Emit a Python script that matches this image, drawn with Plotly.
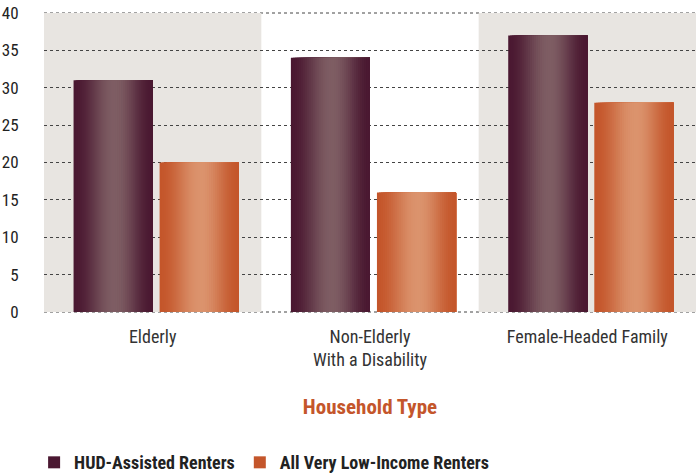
import plotly.graph_objects as go
import numpy as np

categories = ["Elderly", "Non-Elderly<br>With a Disability", "Female-Headed Family"]
hud_values = [31, 34, 37]
vli_values = [20, 16, 28]
series_names = ["HUD-Assisted Renters", "All Very Low-Income Renters"]
y_ticks = [0, 5, 10, 15, 20, 25, 30, 35, 40]

FONT = "Liberation Sans Narrow, Arial Narrow, Roboto Condensed, Roboto, sans-serif"

def hex2rgb(h):
    h = h.lstrip("#")
    return np.array([int(h[i:i+2], 16) for i in (0, 2, 4)], dtype=float)

def mix(c1, c2, t):
    c = hex2rgb(c1) * (1 - t) + hex2rgb(c2) * t
    return "rgb(%d,%d,%d)" % tuple(np.round(c).astype(int))

styles = [
    dict(values=hud_values, edge="#4a1831", light="#7e5d63", offset=-0.364),
    dict(values=vli_values, edge="#c4562b", light="#db936d", offset=0.032),
]
BAR_W = 0.364
N = 40
PEAK = 0.52

fig = go.Figure()
xs = list(range(len(categories)))
for si, st in enumerate(styles):
    for i in range(N):
        u = (i + 0.5) / N
        d = (PEAK - u) / PEAK if u < PEAK else (u - PEAK) / (1 - PEAK)
        t = 0.5 * (1 + np.cos(np.pi * min(d, 1)))
        col = mix(st["edge"], st["light"], t)
        fig.add_trace(go.Bar(
            x=xs, y=st["values"],
            offset=st["offset"] + i * BAR_W / N,
            width=BAR_W - i * BAR_W / N,
            marker=dict(color=col, line=dict(width=0)),
            name=series_names[si],
            legendgroup=series_names[si],
            showlegend=False,
            hoverinfo="skip",
        ))
    fig.add_trace(go.Bar(
        x=[None], y=[None], name=series_names[si],
        legendgroup=series_names[si],
        marker=dict(color=st["edge"], line=dict(width=0)),
        showlegend=True,
    ))

for k in (0, 2):
    fig.add_shape(type="rect", xref="x", yref="y", x0=k - 0.5, x1=k + 0.5,
                  y0=0, y1=40, fillcolor="#e8e5e1", line=dict(width=0), layer="below")
# dotted lines along the plot's top and bottom edges (plotly drops edge gridlines)
for yp in (0, 1):
    fig.add_shape(type="line", xref="paper", yref="paper", x0=0, x1=1, y0=yp, y1=yp,
                  line=dict(color="#444", width=1, dash="dot"), layer="between")

fig.update_layout(
    width=696, height=474,
    margin=dict(l=44, r=0, t=13, b=162),
    paper_bgcolor="white", plot_bgcolor="white",
    barmode="overlay",
    font=dict(family=FONT, color="#222"),
    showlegend=True,
    legend=dict(orientation="h", xref="container", yref="container",
                x=0.049, y=0.024, xanchor="left", yanchor="middle",
                font=dict(family=FONT, size=18, color="#222", weight="bold"),
                traceorder="normal", itemclick=False),
    xaxis=dict(
        tickmode="array", tickvals=xs, ticktext=categories,
        range=[-0.5, 2.5], showgrid=False, zeroline=False,
        ticks="outside", ticklen=8, tickcolor="rgba(0,0,0,0)",
        tickfont=dict(family=FONT, size=18, color="#333"),
        title=dict(text="Household Type", standoff=30,
                   font=dict(family=FONT, size=21, color="#c4562b", weight="bold")),
        automargin=False,
    ),
    yaxis=dict(
        range=[0, 40], tickvals=y_ticks, showgrid=True,
        gridcolor="#444", griddash="dot", gridwidth=1, zeroline=False,
        ticks="outside", ticklen=21, tickcolor="rgba(0,0,0,0)",
        tickfont=dict(family=FONT, size=17, color="#222"),
        automargin=False,
    ),
)

fig.write_html("out.html", config={"displayModeBar": False},
               post_script="document.body.style.margin='0px';")
